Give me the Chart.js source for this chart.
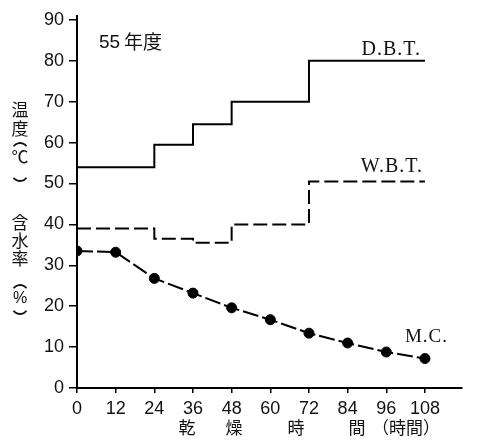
<!DOCTYPE html>
<html>
<head>
<meta charset="utf-8">
<script src="https://cdn.jsdelivr.net/npm/chart.js@4"></script>
<style>
  html, body { margin: 0; padding: 0; background: #fff; }
  #wrap { width: 488px; height: 441px; }
</style>
</head>
<body>
<div id="wrap"><canvas id="chart"></canvas></div>
<script>
// --- data ---
const dbtHours = [0, 24, 36, 48, 72, 108];
const dbtTemps = [54, 59.5, 64.5, 70, 80, 80];

const wbtHours = [0, 24, 36, 48, 72, 108];
const wbtTemps = [39, 36.5, 35.5, 40, 50.5, 50.5];

const mcHours = [0, 12, 24, 36, 48, 60, 72, 84, 96, 108];
const mcValues = [33.5, 33.2, 26.8, 23.2, 19.6, 16.7, 13.4, 11, 8.8, 7.2];

const xTicks = [0, 12, 24, 36, 48, 60, 72, 84, 96, 108];
const yTicks = [0, 10, 20, 30, 40, 50, 60, 70, 80, 90];

const numFont = "'Liberation Sans', Arial, sans-serif";
const jpFont = "'Noto Sans CJK JP', sans-serif";
const serifFont = "'Liberation Serif', serif";

const toPoints = (xs, ys) => xs.map((x, i) => ({ x: x, y: ys[i] }));

// vertical-writing paren: an arc opening down (top) or up (bottom)
function sideParen(c, top, x, y) {
  c.beginPath();
  if (top) c.arc(x, y + 6, 8, Math.PI * 1.2, Math.PI * 1.8);
  else c.arc(x, y - 6, 8, Math.PI * 0.2, Math.PI * 0.8);
  c.stroke();
}

// texts that sit outside the plot or next to the lines
const textPlugin = {
  id: 'texts',
  afterDraw(chart) {
    const c = chart.ctx;
    const xs = chart.scales.x, ys = chart.scales.y;
    c.save();
    c.fillStyle = '#111';
    c.strokeStyle = '#111';
    c.lineWidth = 1.8;
    c.textBaseline = 'middle';

    // vertical y-axis title
    c.textAlign = 'center';
    c.font = "17px " + jpFont;
    [['温', 110], ['度', 129], ['℃', 157], ['含', 223], ['水', 241], ['率', 259]]
      .forEach(([t, y]) => c.fillText(t, 20, y));
    c.font = "16px " + numFont;
    c.fillText('%', 20, 299);
    sideParen(c, true, 20, 145);
    sideParen(c, false, 20, 179);
    sideParen(c, true, 20, 287);
    sideParen(c, false, 20, 312);

    // x-axis title
    c.font = "17px " + jpFont;
    [['乾', 187], ['燥', 234], ['時', 296], ['間', 357], ['（時間）', 406]]
      .forEach(([t, x]) => c.fillText(t, x, 428));

    // year note
    c.textAlign = 'left';
    c.font = "19px " + numFont;
    c.fillText('55', 99, 43);
    c.font = "19px " + jpFont;
    c.fillText('年度', 124, 42);

    // series names
    c.font = "20px " + serifFont;
    c.letterSpacing = '1px';
    c.textAlign = 'right';
    c.textBaseline = 'alphabetic';
    c.fillText('D.B.T.', xs.getPixelForValue(108) - 4, ys.getPixelForValue(80) - 6);
    c.fillText('W.B.T.', xs.getPixelForValue(108) - 2, ys.getPixelForValue(50.5) - 9);
    c.font = "19px " + serifFont;
    c.textAlign = 'left';
    c.fillText('M.C.', xs.getPixelForValue(108) - 20, ys.getPixelForValue(7.2) - 17);
    c.restore();
  }
};

new Chart(document.getElementById('chart'), {
  type: 'scatter',
  data: {
    datasets: [
      {
        label: 'D.B.T.',
        data: toPoints(dbtHours, dbtTemps),
        showLine: true,
        stepped: true,
        borderColor: '#000',
        borderWidth: 2,
        pointRadius: 0
      },
      {
        label: 'W.B.T.',
        data: toPoints(wbtHours, wbtTemps),
        showLine: true,
        stepped: true,
        borderColor: '#000',
        borderWidth: 2,
        borderDash: [14, 5],
        pointRadius: 0
      },
      {
        label: 'M.C.',
        data: toPoints(mcHours, mcValues),
        showLine: true,
        borderColor: '#000',
        borderWidth: 2,
        borderDash: [16, 4],
        pointRadius: 5,
        pointBackgroundColor: '#000',
        pointBorderColor: '#000',
        pointBorderWidth: 1
      }
    ]
  },
  options: {
    responsive: true,
    maintainAspectRatio: false,
    animation: false,
    layout: { padding: { top: 13, right: 26, left: 0, bottom: 0 } },
    plugins: {
      legend: { display: false },
      tooltip: { enabled: false }
    },
    scales: {
      x: {
        type: 'linear',
        min: 0,
        max: 119.5,
        afterBuildTicks: axis => { axis.ticks = xTicks.map(v => ({ value: v })); },
        afterFit: scale => { scale.height = 53; },
        grid: { drawOnChartArea: false, drawTicks: true, tickLength: 5, color: '#000', lineWidth: 1.5 },
        border: { display: true, color: '#000', width: 2 },
        ticks: { color: '#111', padding: 5, maxRotation: 0, font: { family: numFont, size: 18 } }
      },
      y: {
        type: 'linear',
        min: 0,
        max: 91,
        afterBuildTicks: axis => { axis.ticks = yTicks.map(v => ({ value: v })); },
        afterFit: scale => { scale.width = 77; },
        grid: { drawOnChartArea: false, drawTicks: true, tickLength: 8, color: '#000', lineWidth: 1.5 },
        border: { display: true, color: '#000', width: 2 },
        ticks: { color: '#111', padding: 5, font: { family: numFont, size: 18 } }
      }
    }
  },
  plugins: [textPlugin]
});
</script>
</body>
</html>
